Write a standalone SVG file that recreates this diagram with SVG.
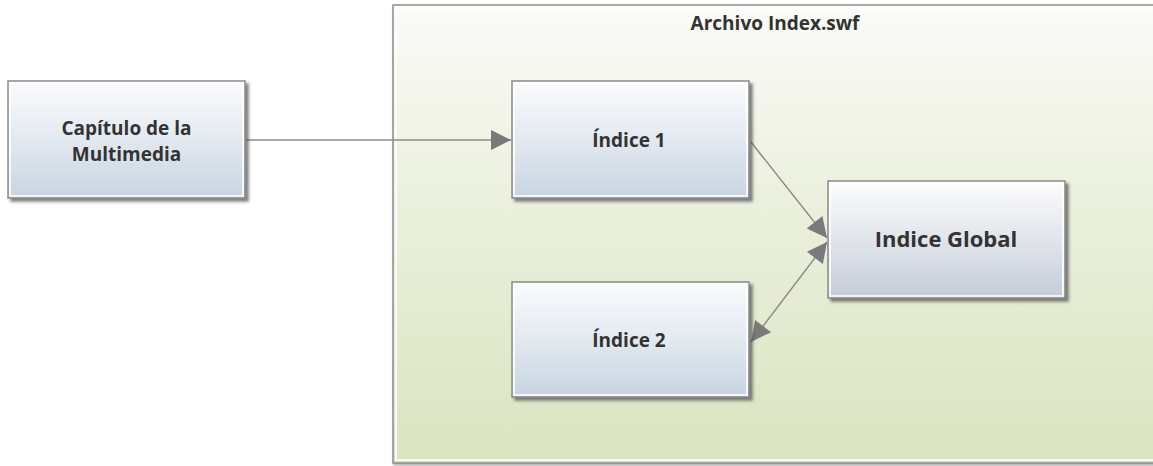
<svg xmlns="http://www.w3.org/2000/svg" width="1153" height="466" viewBox="0 0 1153 466">
  <defs>
    <linearGradient id="boxFill" x1="0" y1="0" x2="0" y2="1">
      <stop offset="0" stop-color="#fbfcfe"/>
      <stop offset="0.5" stop-color="#e2e9f0"/>
      <stop offset="1" stop-color="#c7d4e0"/>
    </linearGradient>
    <linearGradient id="globalFill" x1="0" y1="0" x2="0" y2="1">
      <stop offset="0" stop-color="#fcfcfd"/>
      <stop offset="0.5" stop-color="#e1e5eb"/>
      <stop offset="1" stop-color="#c4ccd7"/>
    </linearGradient>
    <linearGradient id="groupFill" x1="0" y1="0" x2="0" y2="1">
      <stop offset="0" stop-color="#fbfbf8"/>
      <stop offset="0.35" stop-color="#eef2e2"/>
      <stop offset="1" stop-color="#d9e4bf"/>
    </linearGradient>
    <filter id="shadow" x="-5%" y="-5%" width="115%" height="120%">
      <feDropShadow dx="3" dy="3" stdDeviation="1.5" flood-color="#4a4a4a" flood-opacity="0.7"/>
    </filter>
    <filter id="soft" x="-2%" y="-2%" width="104%" height="106%">
      <feDropShadow dx="1" dy="2" stdDeviation="1" flood-color="#666" flood-opacity="0.5"/>
    </filter>
    <marker id="arrowBig" viewBox="0 0 10 10" refX="10" refY="5" markerWidth="22" markerHeight="20" markerUnits="userSpaceOnUse" orient="auto-start-reverse">
      <path d="M0,0 L10,5 L0,10 z" fill="#7a7a7a"/>
    </marker>
  </defs>
  <style>
    .box { stroke: #8a8a8a; stroke-width: 1.5; }
    .inner { fill: none; stroke: #ffffff; stroke-width: 2; stroke-opacity: 0.8; }
    .label { font-family: "Open Sans", "DejaVu Sans", sans-serif; font-weight: bold; fill: #333333; text-anchor: middle; }
    .conn { stroke: #8c8c8c; stroke-width: 1.5; fill: none; }
  </style>

  <rect width="1153" height="466" fill="#ffffff"/>

  <!-- container: Archivo Index.swf -->
  <g id="archivo-index">
    <rect x="393" y="5" width="780" height="458" fill="url(#groupFill)" stroke="#8f8f8f" stroke-width="1.5" filter="url(#soft)"/>
    <rect x="396" y="8" width="774" height="452" class="inner" stroke-opacity="0.6"/>
    <text x="775" y="30" class="label" font-size="19">Archivo Index.swf</text>
  </g>

  <!-- connectors -->
  <g id="connectors">
    <line x1="246" y1="140" x2="511" y2="140" class="conn" marker-end="url(#arrowBig)"/>
    <line x1="751" y1="142" x2="827" y2="238" class="conn" marker-end="url(#arrowBig)"/>
    <line x1="751" y1="342" x2="827" y2="242" class="conn" marker-start="url(#arrowBig)" marker-end="url(#arrowBig)"/>
  </g>

  <g id="capitulo">
    <rect x="8" y="81" width="237" height="117" fill="url(#boxFill)" class="box" filter="url(#shadow)"/>
    <rect x="10" y="83" width="233" height="113" class="inner"/>
    <text x="126.5" y="135" class="label" font-size="19">Capítulo de la</text>
    <text x="126.5" y="161" class="label" font-size="19">Multimedia</text>
  </g>

  <g id="indice-1">
    <rect x="512" y="81" width="237" height="117" fill="url(#boxFill)" class="box" filter="url(#shadow)"/>
    <rect x="514" y="83" width="233" height="113" class="inner"/>
    <text x="629" y="147" class="label" font-size="19">Índice 1</text>
  </g>

  <g id="indice-2">
    <rect x="512" y="282" width="237" height="115" fill="url(#boxFill)" class="box" filter="url(#shadow)"/>
    <rect x="514" y="284" width="233" height="111" class="inner"/>
    <text x="629" y="347" class="label" font-size="19">Índice 2</text>
  </g>

  <g id="indice-global">
    <rect x="828" y="181" width="237" height="117" fill="url(#globalFill)" class="box" filter="url(#shadow)"/>
    <rect x="830" y="183" width="233" height="113" class="inner"/>
    <text x="946" y="247" class="label" font-size="22">Indice Global</text>
  </g>
</svg>
